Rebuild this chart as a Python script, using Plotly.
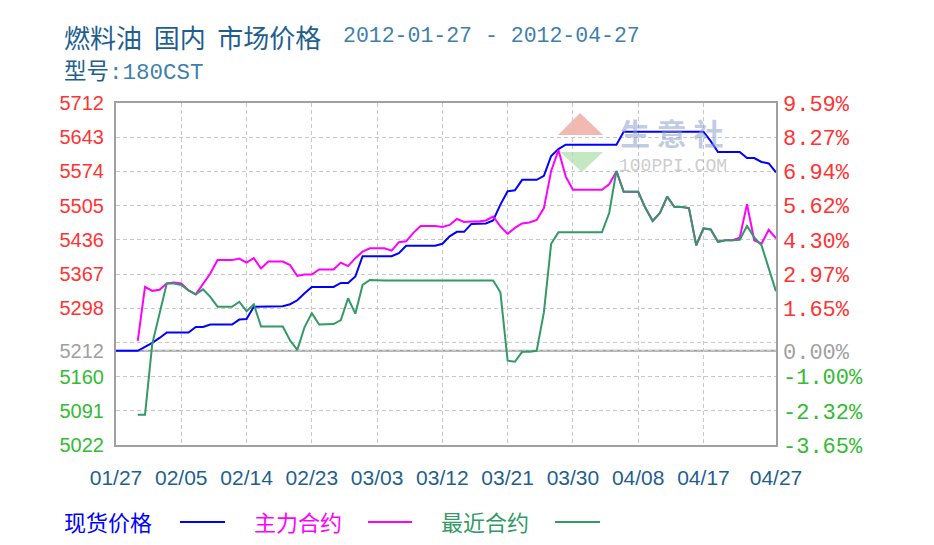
import pandas as pd
import plotly.graph_objects as go


# ---------------- data ----------------
dates = pd.date_range("2012-01-27", "2012-04-27", freq="D")

# 现货价格 (spot)
spot_price = [
    5212, 5212, 5212, 5212, 5220, 5228, 5238, 5249, 5249, 5249,
    5249, 5260, 5260, 5265, 5265, 5265, 5265, 5275, 5276, 5301,
    5301, 5301, 5302, 5302, 5306, 5314, 5328, 5341, 5341, 5341,
    5341, 5349, 5349, 5362, 5403, 5403, 5403, 5403, 5403, 5409,
    5424, 5424, 5424, 5424, 5424, 5428, 5443, 5452, 5452, 5468,
    5468, 5469, 5475, 5507, 5534, 5536, 5557, 5557, 5557, 5565,
    5605, 5619, 5628, 5628, 5628, 5628, 5628, 5628, 5628, 5628,
    5654, 5654, 5654, 5654, 5654, 5654, 5654, 5654, 5654, 5654,
    5654, 5654, 5635, 5613, 5613, 5613, 5613, 5601, 5601, 5593,
    5590, 5572,
]

# 主力合约 (main contract)
main_contract = [
    None, None, None, 5232, 5341, 5333, 5335, 5348, 5350, 5348,
    5334, 5326, 5348, 5368, 5395, 5395, 5395, 5398, 5390, 5399,
    5378, 5392, 5392, 5392, 5385, 5363, 5366, 5366, 5376, 5376,
    5376, 5390, 5383, 5399, 5412, 5419, 5419, 5419, 5414, 5431,
    5433, 5450, 5464, 5464, 5464, 5462, 5466, 5478, 5472, 5473,
    5473, 5475, 5483, 5463, 5448, 5460, 5469, 5471, 5476, 5500,
    5575, 5617, 5564, 5537, 5537, 5537, 5537, 5537, 5548, 5574,
    5533, 5533, 5533, 5500, 5474, 5490, 5523, 5502, 5502, 5500,
    5425, 5459, 5457, 5432, 5435, 5435, 5440, 5508, 5435, 5428,
    5456, 5439,
]

# 最近合约 (nearest contract)
near_contract = [
    None, None, None, 5083, 5083, 5226, 5290, 5348, 5348, 5345,
    5334, 5326, 5336, 5321, 5301, 5301, 5301, 5311, 5292, 5306,
    5261, 5261, 5261, 5261, 5233, 5214, 5260, 5288, 5265, 5265,
    5266, 5274, 5318, 5287, 5345, 5355, 5354, 5354, 5354, 5354,
    5354, 5354, 5354, 5354, 5354, 5354, 5354, 5354, 5354, 5354,
    5354, 5354, 5354, 5330, 5192, 5190, 5210, 5210, 5212, 5290,
    5428, 5451, 5451, 5451, 5451, 5451, 5451, 5451, 5490, 5575,
    5533, 5533, 5533, 5500, 5474, 5490, 5523, 5502, 5502, 5500,
    5425, 5459, 5457, 5432, 5435, 5435, 5436, 5464, 5441, 5425,
    5378, 5332,
]

base_price = 5212
price_ticks = [5712, 5643, 5574, 5505, 5436, 5367, 5298, 5212, 5160, 5091, 5022]
pct_labels = ["9.59%", "8.27%", "6.94%", "5.62%", "4.30%", "2.97%", "1.65%",
              "0.00%", "-1.00%", "-2.32%", "-3.65%"]
extra_grid = [5229]

date_ticks = ["2012-01-27", "2012-02-05", "2012-02-14", "2012-02-23", "2012-03-03",
              "2012-03-12", "2012-03-21", "2012-03-30", "2012-04-08", "2012-04-17",
              "2012-04-27"]
date_labels = ["01/27", "02/05", "02/14", "02/23", "03/03", "03/12", "03/21",
               "03/30", "04/08", "04/17", "04/27"]

series_names = ["现货价格", "主力合约", "最近合约"]
series_colors = ["#0000ff", "#ff00ff", "#339966"]


# ---------------- helpers ----------------
# plot area sits at x 116..776, y 103..445 on the page
def px(x):
    return (x - 116) / 660


def py(y):
    return (445 - y) / 342


def tick_color(v):
    if v > base_price:
        return "#ff3333"
    if v < base_price:
        return "#33bb33"
    return "#a0a0a0"


left_text = ['<span style="color:%s">%d</span>' % (tick_color(v), v) for v in price_ticks]
right_text = ['<span style="color:%s">%s</span>' % (tick_color(v), t)
              for v, t in zip(price_ticks, pct_labels)]

GRID = "#c8c8c8"
DASH = "4px,3px"
FRAME = "#a0a0a0"

fig = go.Figure()

for vals, name, color in zip([spot_price, main_contract, near_contract],
                             series_names, series_colors):
    fig.add_trace(go.Scatter(
        x=dates, y=vals, name=name, mode="lines",
        line=dict(color=color, width=2),
        connectgaps=False, showlegend=False,
    ))

# dummy trace so the right axis is drawn
fig.add_trace(go.Scatter(x=dates, y=spot_price, yaxis="y2", opacity=0,
                         showlegend=False, hoverinfo="skip"))

# page body has an 8px margin, so the figure is 16px smaller than the window
fig.update_layout(
    width=918,
    height=529,
    autosize=False,
    margin=dict(l=108, r=150, t=95, b=92),
    paper_bgcolor="white",
    plot_bgcolor="white",
    showlegend=False,
    xaxis=dict(
        type="date",
        range=[date_ticks[0], date_ticks[-1]],
        tickmode="array",
        tickvals=date_ticks,
        ticktext=date_labels,
        showgrid=True, gridcolor=GRID, griddash=DASH, gridwidth=1,
        showline=True, mirror=True, linecolor=FRAME, linewidth=2,
        ticks="", ticklabelstandoff=13,
        tickfont=dict(family="Liberation Sans", size=21, color="#1f5f8f"),
        zeroline=False,
    ),
    yaxis=dict(
        range=[price_ticks[-1], price_ticks[0]],
        tickmode="array",
        tickvals=price_ticks,
        ticktext=left_text,
        showgrid=True, gridcolor=GRID, griddash=DASH, gridwidth=1,
        showline=True, mirror=True, linecolor=FRAME, linewidth=2,
        ticks="", ticklabelstandoff=6,
        tickfont=dict(family="Liberation Sans", size=20),
        zeroline=False,
    ),
    yaxis2=dict(
        overlaying="y", side="right",
        range=[price_ticks[-1], price_ticks[0]],
        tickmode="array",
        tickvals=price_ticks,
        ticktext=right_text,
        showgrid=False, zeroline=False, showline=False,
        ticks="", ticklabelstandoff=6,
        tickfont=dict(family="Liberation Mono", size=22),
    ),
)

shapes = []
# zero line (base price) and the unlabeled grid level
shapes.append(dict(type="line", xref="paper", x0=0, x1=1, yref="y",
                   y0=base_price, y1=base_price, layer="between",
                   line=dict(color=FRAME, width=2)))
for g in extra_grid:
    shapes.append(dict(type="line", xref="paper", x0=0, x1=1, yref="y",
                       y0=g, y1=g, layer="between",
                       line=dict(color=GRID, width=1, dash=DASH)))

# outer frame (left + top)
shapes.append(dict(type="line", xref="paper", yref="paper",
                   x0=px(6), x1=px(6), y0=py(6), y1=py(560),
                   line=dict(color="#cccccc", width=1)))
shapes.append(dict(type="line", xref="paper", yref="paper",
                   x0=px(6), x1=px(960), y0=py(6), y1=py(6),
                   line=dict(color="#cccccc", width=1)))

# watermark triangles
shapes.append(dict(type="path", xref="paper", yref="paper", layer="between",
                   path="M %f,%f L %f,%f L %f,%f Z" % (px(580), py(113), px(558), py(135),
                                                       px(603), py(135)),
                   fillcolor="#f2b8b2", line=dict(width=0)))
shapes.append(dict(type="path", xref="paper", yref="paper", layer="between",
                   path="M %f,%f L %f,%f L %f,%f Z" % (px(560), py(152), px(603), py(152),
                                                       px(582), py(172)),
                   fillcolor="#c4e8c4", line=dict(width=0)))

# legend line samples
legend_lines = [(180, 225), (368, 412), (555, 600)]
for (x0, x1), color in zip(legend_lines, series_colors):
    shapes.append(dict(type="line", xref="paper", yref="paper",
                       x0=px(x0), x1=px(x1), y0=py(522), y1=py(522),
                       line=dict(color=color, width=2)))

fig.update_layout(shapes=shapes)

annotations = [
    dict(text="燃料油  国内  市场价格", x=px(63), y=py(36),
         font=dict(family="Noto Sans CJK SC", size=26, color="#1f5f8f")),
    dict(text="2012-01-27 - 2012-04-27", x=px(342), y=py(36),
         font=dict(family="Liberation Mono", size=21.5, color="#3f7fae")),
    dict(text='型号<span style="color:#3f7fae">:180CST</span>', x=px(63), y=py(72),
         font=dict(family="Liberation Mono, Noto Sans CJK SC", size=22.5, color="#1f5f8f")),
    dict(text="<b>生 意 社</b>", x=px(619), y=py(132),
         font=dict(family="Noto Sans CJK SC", size=30, color="rgba(140,160,205,0.55)")),
    dict(text="100PPI.COM", x=px(618), y=py(166),
         font=dict(family="Liberation Mono", size=18, color="rgba(170,170,170,0.6)")),
]
legend_x = [63, 253, 440]
for name, color, lx in zip(series_names, series_colors, legend_x):
    annotations.append(dict(text=name, x=px(lx), y=py(521),
                            font=dict(family="Noto Sans CJK SC", size=22, color=color)))

for a in annotations:
    a.update(xref="paper", yref="paper", xanchor="left", yanchor="middle",
             showarrow=False, borderpad=0)

fig.update_layout(annotations=annotations)

fig.write_html("out.html")
